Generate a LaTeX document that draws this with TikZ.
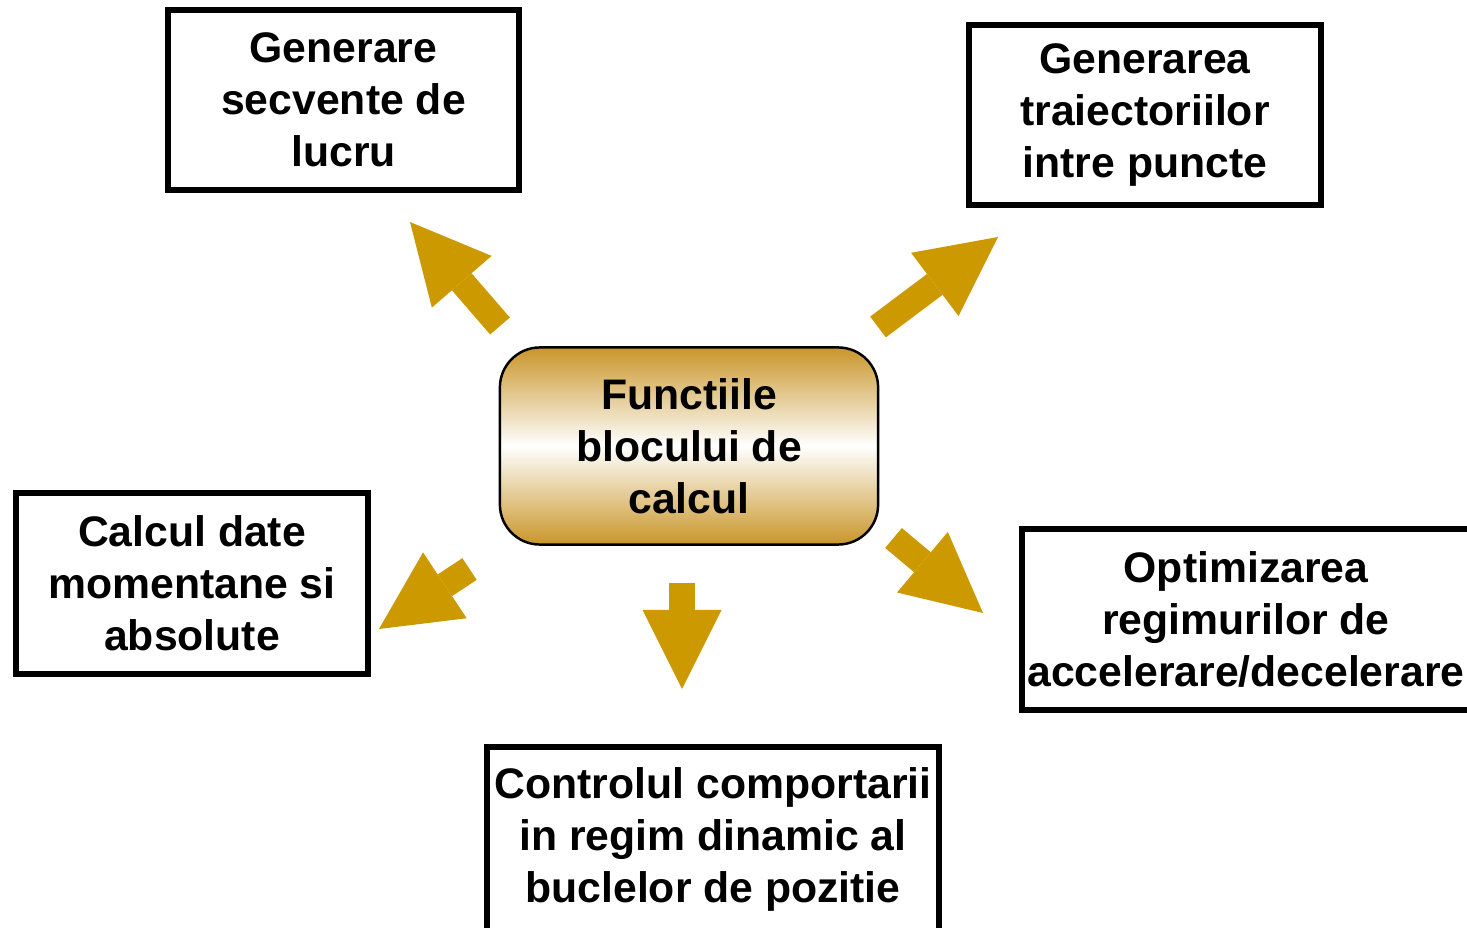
\documentclass[tikz,border=0pt]{standalone}
\usepackage{fontspec}
\setmainfont{Liberation Sans}
\usetikzlibrary{arrows.meta,positioning}
\definecolor{arrowgold}{RGB}{204,153,0}
\definecolor{hubgold}{RGB}{201,150,42}
\newcommand{\boxfont}{\fontsize{12.15pt}{14.8pt}\selectfont\bfseries}

\begin{document}
\begin{tikzpicture}[x=0.01cm, y=-0.01cm,
    task/.style={draw, line width=1.7pt, align=center, inner sep=0pt, font=\boxfont},
    hub/.style={draw, line width=0.7pt, rounded corners=0.4cm, align=center, inner sep=0pt,
        top color=hubgold, bottom color=hubgold, middle color=white, font=\boxfont,
        minimum width=3.78cm, minimum height=1.97cm},
    flow/.style={arrowgold, line width=0.26cm, -{Triangle[length=0.79cm, width=0.79cm, line width=0pt]}}]
            \useasboundingbox (0,0) rectangle (1467,928);

            % First, locate each of the nodes and name them
            \node [hub] (functions) at (689,446) {Functiile\\blocului de\\calcul};

            \node [task, minimum width=3.51cm, minimum height=1.80cm] (sequences) at (343.5,100) {Generare\\secvente de\\lucru};
            \node [task, minimum width=3.52cm, minimum height=1.80cm] (trajectories) at (1145,115) {Generarea\\traiectoriilor\\intre puncte};
            \node [task, minimum width=3.52cm, minimum height=1.81cm] (dataCalc) at (192,583.5) {Calcul date\\momentane si\\absolute};
            \node [task, minimum width=4.48cm, minimum height=1.81cm] (optimization) at (1246,619.5) {Optimizarea\\regimurilor de\\accelerare/decelerare};
            \node [task, minimum width=4.52cm, minimum height=1.84cm] (control) at (713,839) {Controlul comportarii\\in regim dinamic al\\buclelor de pozitie};

            % Tails and tips of the block arrows
            \coordinate (tail1) at (500,326);
            \coordinate (tip1) at (410,222);
            \coordinate (tail2) at (878,327);
            \coordinate (tip2) at (998,237);
            \coordinate (tail3) at (469.5,569);
            \coordinate (tip3) at (379,629);
            \coordinate (tail4) at (682,583);
            \coordinate (tip4) at (682,689);
            \coordinate (tail5) at (893.5,538);
            \coordinate (tip5) at (983,613);

            % Now draw the arrows:
            \draw [flow] (tail1) -- (tip1);
            \draw [flow] (tail2) -- (tip2);
            \draw [flow] (tail3) -- (tip3);
            \draw [flow] (tail4) -- (tip4);
            \draw [flow] (tail5) -- (tip5);
        \end{tikzpicture}
\end{document}
